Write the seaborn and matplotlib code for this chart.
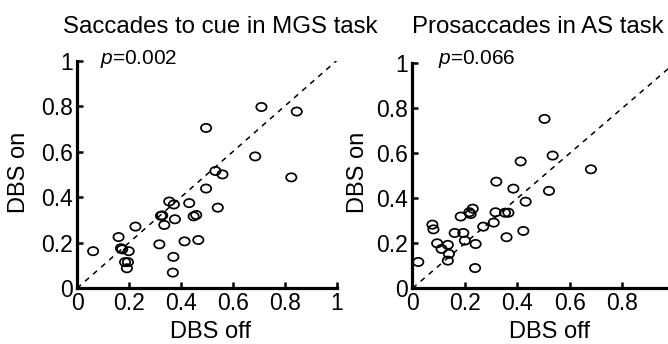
import numpy as np
import pandas as pd
import matplotlib
matplotlib.use("Agg")
import matplotlib.pyplot as plt
from matplotlib.path import Path
import seaborn as sns

# Saccades to cue in MGS task (DBS off vs DBS on)
mgs_off = [0.062, 0.160, 0.169, 0.174, 0.199, 0.185, 0.196, 0.192, 0.225, 0.317,
           0.323, 0.328, 0.336, 0.355, 0.373, 0.377, 0.371, 0.369, 0.414, 0.432,
           0.449, 0.459, 0.467, 0.497, 0.497, 0.533, 0.560, 0.542, 0.686, 0.710,
           0.846, 0.825]
mgs_on = [0.163, 0.225, 0.176, 0.171, 0.163, 0.115, 0.115, 0.088, 0.271, 0.193,
          0.318, 0.320, 0.278, 0.381, 0.368, 0.303, 0.138, 0.069, 0.206, 0.374,
          0.316, 0.322, 0.212, 0.704, 0.438, 0.515, 0.500, 0.354, 0.579, 0.796,
          0.776, 0.487]

# Prosaccades in AS task
as_off = [0.022, 0.076, 0.080, 0.094, 0.111, 0.135, 0.139, 0.135, 0.161, 0.184,
          0.194, 0.200, 0.217, 0.222, 0.230, 0.241, 0.239, 0.270, 0.310, 0.317,
          0.320, 0.353, 0.366, 0.359, 0.385, 0.413, 0.432, 0.423, 0.504, 0.535,
          0.521, 0.681]
as_on = [0.117, 0.283, 0.262, 0.200, 0.175, 0.193, 0.153, 0.123, 0.246, 0.319,
         0.246, 0.212, 0.338, 0.330, 0.354, 0.197, 0.090, 0.274, 0.292, 0.338,
         0.474, 0.336, 0.336, 0.227, 0.443, 0.564, 0.385, 0.255, 0.753, 0.590,
         0.433, 0.529]

titles = ["Saccades to cue in MGS task", "Prosaccades in AS task"]
p_labels = ["0.002", "0.066"]
tick_vals = [0, 0.2, 0.4, 0.6, 0.8, 1]
tick_labels = ["0", "0.2", "0.4", "0.6", "0.8", "1"]

sns.set_style("ticks")
plt.rcParams["font.family"] = ["Liberation Sans", "DejaVu Sans"]
plt.rcParams["mathtext.fontset"] = "custom"
plt.rcParams["mathtext.it"] = "Liberation Sans:italic"
plt.rcParams["mathtext.rm"] = "Liberation Sans"
# plain black like the matlab original (seaborn uses dark grey)
for key in ["text.color", "axes.labelcolor", "xtick.color", "ytick.color", "axes.edgecolor"]:
    plt.rcParams[key] = "black"

# slightly squashed circle, like the stretched matlab markers
circ = Path.unit_circle()
ellipse = Path(circ.vertices * np.array([1.0, 0.8]), circ.codes)

fig = plt.figure(figsize=(6.68, 3.44), dpi=100)
ax1 = fig.add_axes([0.1153, 0.1619, 0.3888, 0.6622])
ax2 = fig.add_axes([0.6175, 0.1619, 0.3922, 0.654])

data = [(ax1, mgs_off, mgs_on), (ax2, as_off, as_on)]
for ax, off, on in data:
    df = pd.DataFrame({"DBS off": off, "DBS on": on})
    ax.plot([0, 1], [0, 1], color="black", lw=1.1, ls=(0, (3.5, 3.5)))
    sns.scatterplot(data=df, x="DBS off", y="DBS on", ax=ax, marker=ellipse,
                    s=55, facecolor="none", edgecolor="black", linewidth=1.25,
                    clip_on=False)
    ax.set_xlim(0, 1)
    ax.set_ylim(0, 1)
    ax.set_xticks(tick_vals)
    ax.set_xticklabels(tick_labels)
    ax.set_yticks(tick_vals)
    ax.set_yticklabels(tick_labels)
    ax.tick_params(direction="in", length=4.5, width=1.8, labelsize=16.5, pad=3)
    sns.despine(ax=ax)
    for side in ["left", "bottom"]:
        ax.spines[side].set_linewidth(2.3)
    ax.set_xlabel("")
    ax.set_ylabel("")

# the right panel is cropped at x=1 in the original, its "1" label is off the page
ax2.set_xticklabels(tick_labels[:-1] + [""])

# titles and labels placed like the original figure
fig.text(0.329, 0.904, titles[0], ha="center", va="baseline", fontsize=17.3)
fig.text(0.805, 0.904, titles[1], ha="center", va="baseline", fontsize=17.3)
fig.text(0.150, 0.814, r"$\mathit{p}$=" + p_labels[0], ha="left", va="baseline", fontsize=15)
fig.text(0.656, 0.814, r"$\mathit{p}$=" + p_labels[1], ha="left", va="baseline", fontsize=15)
fig.text(0.315, 0.004, "DBS off", ha="center", va="bottom", fontsize=17)
fig.text(0.823, 0.004, "DBS off", ha="center", va="bottom", fontsize=17)
fig.text(0.029, 0.5, "DBS on", ha="center", va="center", rotation=90, fontsize=17)
fig.text(0.536, 0.5, "DBS on", ha="center", va="center", rotation=90, fontsize=17)

fig.savefig("out.png", dpi=100)
